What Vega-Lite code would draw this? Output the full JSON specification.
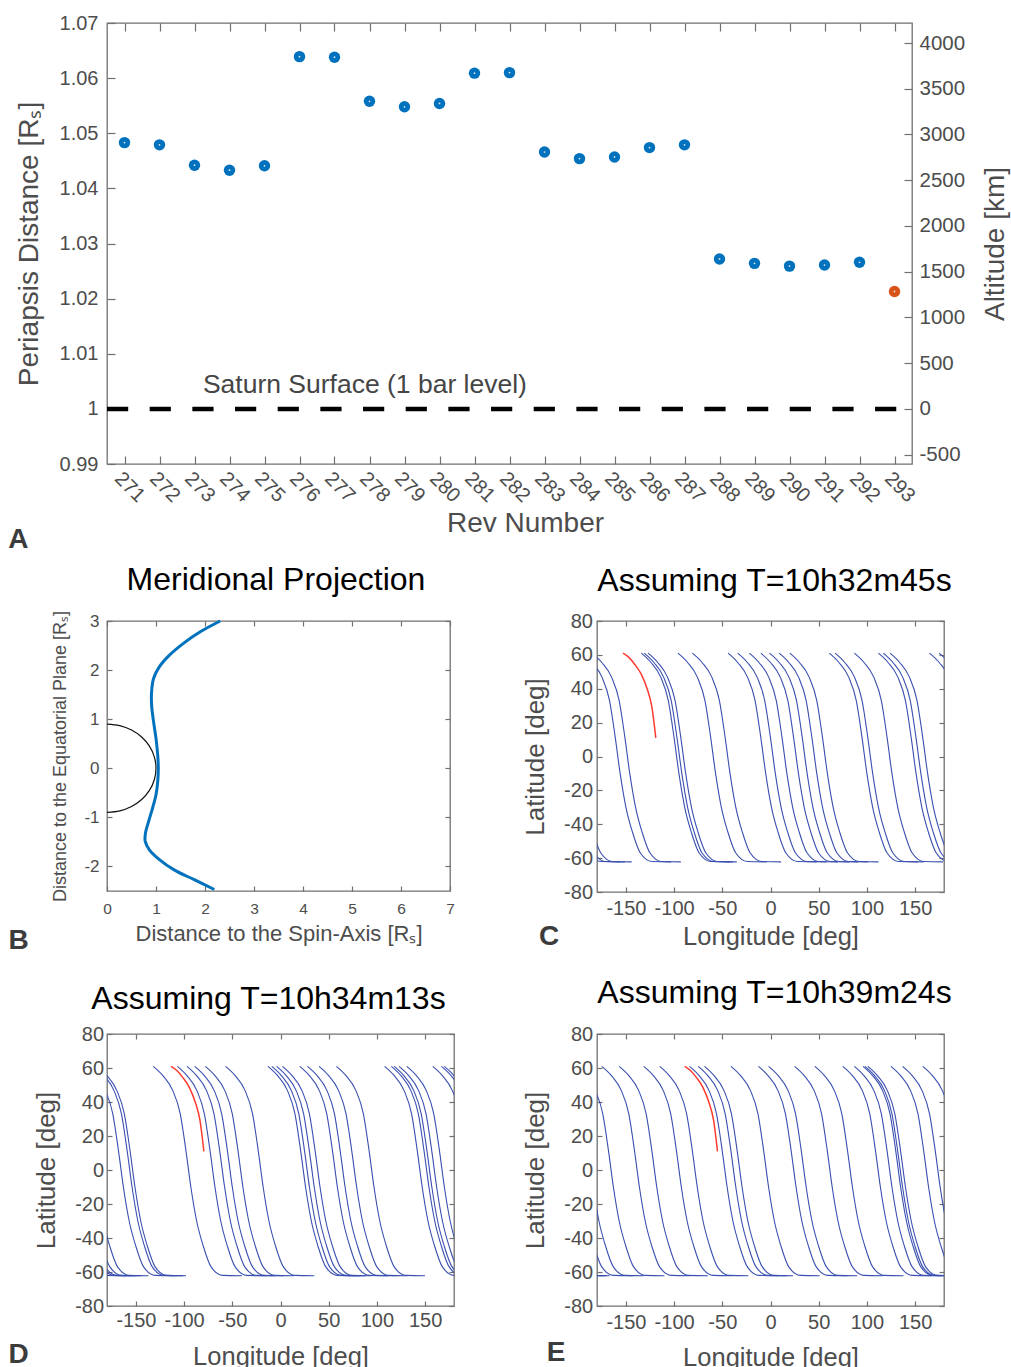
{
"$schema": "https://vega.github.io/schema/vega-lite/v6.json",
"background": "white",
"padding": {"left": 7, "top": 12, "right": 2, "bottom": 0},
"bounds": "flush",
"spacing": 157,
"config": {
 "font": "Liberation Sans",
 "view": {"stroke": "#707070", "strokeWidth": 1.3},
 "axis": {"domain": false, "grid": false, "tickColor": "#707070", "tickWidth": 1.2, "labelColor": "#4d4d4d", "titleColor": "#4d4d4d", "titleFontWeight": "normal", "labelFlush": false, "labelOverlap": false, "labelBound": false, "labelFont": "Liberation Sans", "titleFont": "Liberation Sans"},
 "title": {"fontWeight": "normal", "color": "#000000", "font": "Liberation Sans"}
},
"datasets": {
 "revs": [
  {"rev":271,"r":1.0483,"kind":"earlier"},{"rev":272,"r":1.0479,"kind":"earlier"},{"rev":273,"r":1.0442,"kind":"earlier"},{"rev":274,"r":1.0433,"kind":"earlier"},{"rev":275,"r":1.0441,"kind":"earlier"},{"rev":276,"r":1.0639,"kind":"earlier"},{"rev":277,"r":1.0638,"kind":"earlier"},{"rev":278,"r":1.0558,"kind":"earlier"},{"rev":279,"r":1.0548,"kind":"earlier"},{"rev":280,"r":1.0554,"kind":"earlier"},{"rev":281,"r":1.0609,"kind":"earlier"},{"rev":282,"r":1.0610,"kind":"earlier"},{"rev":283,"r":1.0466,"kind":"earlier"},{"rev":284,"r":1.0454,"kind":"earlier"},{"rev":285,"r":1.0457,"kind":"earlier"},{"rev":286,"r":1.0474,"kind":"earlier"},{"rev":287,"r":1.0479,"kind":"earlier"},{"rev":288,"r":1.0272,"kind":"earlier"},{"rev":289,"r":1.0264,"kind":"earlier"},{"rev":290,"r":1.0259,"kind":"earlier"},{"rev":291,"r":1.0261,"kind":"earlier"},{"rev":292,"r":1.0266,"kind":"earlier"},{"rev":293,"r":1.0213,"kind":"final"}
 ],
 "merid": [
  {"s":"traj","i":0,"x":2.31,"y":3.0},{"s":"traj","i":1,"x":1.92,"y":2.79},{"s":"traj","i":2,"x":1.58,"y":2.56},{"s":"traj","i":3,"x":1.27,"y":2.30},{"s":"traj","i":4,"x":1.07,"y":2.07},{"s":"traj","i":5,"x":0.95,"y":1.83},{"s":"traj","i":6,"x":0.91,"y":1.56},{"s":"traj","i":7,"x":0.91,"y":1.29},{"s":"traj","i":8,"x":0.95,"y":0.95},{"s":"traj","i":9,"x":1.0,"y":0.61},{"s":"traj","i":10,"x":1.035,"y":0.27},{"s":"traj","i":11,"x":1.047,"y":0},{"s":"traj","i":12,"x":1.035,"y":-0.27},{"s":"traj","i":13,"x":1.0,"y":-0.54},{"s":"traj","i":14,"x":0.93,"y":-0.81},{"s":"traj","i":15,"x":0.85,"y":-1.08},{"s":"traj","i":16,"x":0.785,"y":-1.32},{"s":"traj","i":17,"x":0.78,"y":-1.49},{"s":"traj","i":18,"x":0.865,"y":-1.66},{"s":"traj","i":19,"x":1.07,"y":-1.86},{"s":"traj","i":20,"x":1.37,"y":-2.07},{"s":"traj","i":21,"x":1.78,"y":-2.27},{"s":"traj","i":22,"x":2.19,"y":-2.47},
  {"s":"surf","i":0,"x":0,"y":0.9},{"s":"surf","i":1,"x":0.2588,"y":0.8693},{"s":"surf","i":2,"x":0.5,"y":0.7794},{"s":"surf","i":3,"x":0.7071,"y":0.6364},{"s":"surf","i":4,"x":0.866,"y":0.45},{"s":"surf","i":5,"x":0.9659,"y":0.2329},{"s":"surf","i":6,"x":1,"y":0},{"s":"surf","i":7,"x":0.9659,"y":-0.2329},{"s":"surf","i":8,"x":0.866,"y":-0.45},{"s":"surf","i":9,"x":0.7071,"y":-0.6364},{"s":"surf","i":10,"x":0.5,"y":-0.7794},{"s":"surf","i":11,"x":0.2588,"y":-0.8693},{"s":"surf","i":12,"x":0,"y":-0.9}
 ],
 "tracks": [
  {"p":"C","k":"b","id":"C1","lon":[-134,-124,-114,-106,-100,-95,-89,-82,-74,-62,-42],"lat":[61,55.5,47,33,11,-10,-30,-45,-57,-62,-62.2]},
  {"p":"C","k":"b","id":"C2","lon":[-131,-121,-111,-103,-97,-92,-86,-79,-71,-59,-39],"lat":[61,55.5,47,33,11,-10,-30,-45,-57,-62,-62.2]},
  {"p":"C","k":"b","id":"C3","lon":[-127,-117,-107,-99,-93,-88,-82,-75,-67,-55,-35],"lat":[61,55.5,47,33,11,-10,-30,-45,-57,-62,-62.2]},
  {"p":"C","k":"b","id":"C4","lon":[-96,-86,-76,-68,-62,-57,-51,-44,-36,-24,-4],"lat":[61,55.5,47,33,11,-10,-30,-45,-57,-62,-62.2]},
  {"p":"C","k":"b","id":"C5","lon":[-81,-71,-61,-53,-47,-42,-36,-29,-21,-9,11],"lat":[61,55.5,47,33,11,-10,-30,-45,-57,-62,-62.2]},
  {"p":"C","k":"b","id":"C6","lon":[-44,-34,-24,-16,-10,-5,1,8,16,28,48],"lat":[61,55.5,47,33,11,-10,-30,-45,-57,-62,-62.2]},
  {"p":"C","k":"b","id":"C7","lon":[-34,-24,-14,-6,0,5,11,18,26,38,58],"lat":[61,55.5,47,33,11,-10,-30,-45,-57,-62,-62.2]},
  {"p":"C","k":"b","id":"C8","lon":[-22,-12,-2,6,12,17,23,30,38,50,70],"lat":[61,55.5,47,33,11,-10,-30,-45,-57,-62,-62.2]},
  {"p":"C","k":"b","id":"C9","lon":[-10,0,10,18,24,29,35,42,50,62,82],"lat":[61,55.5,47,33,11,-10,-30,-45,-57,-62,-62.2]},
  {"p":"C","k":"b","id":"C10","lon":[-1,9,19,27,33,38,44,51,59,71,91],"lat":[61,55.5,47,33,11,-10,-30,-45,-57,-62,-62.2]},
  {"p":"C","k":"b","id":"C11","lon":[9,19,29,37,43,48,54,61,69,81,101],"lat":[61,55.5,47,33,11,-10,-30,-45,-57,-62,-62.2]},
  {"p":"C","k":"b","id":"C12","lon":[20,30,40,48,54,59,65,72,80,92,112],"lat":[61,55.5,47,33,11,-10,-30,-45,-57,-62,-62.2]},
  {"p":"C","k":"b","id":"C13","lon":[61,71,81,89,95,100,106,113,121,133,153],"lat":[61,55.5,47,33,11,-10,-30,-45,-57,-62,-62.2]},
  {"p":"C","k":"b","id":"C14","lon":[67,77,87,95,101,106,112,119,127,139,159],"lat":[61,55.5,47,33,11,-10,-30,-45,-57,-62,-62.2]},
  {"p":"C","k":"b","id":"C15","lon":[87,97,107,115,121,126,132,139,147,159,179],"lat":[61,55.5,47,33,11,-10,-30,-45,-57,-62,-62.2]},
  {"p":"C","k":"b","id":"C16","lon":[112,122,132,140,146,151,157,164,172,184,204],"lat":[61,55.5,47,33,11,-10,-30,-45,-57,-62,-62.2]},
  {"p":"C","k":"b","id":"C17","lon":[117,127,137,145,151,156,162,169,177,189,209],"lat":[61,55.5,47,33,11,-10,-30,-45,-57,-62,-62.2]},
  {"p":"C","k":"b","id":"C18","lon":[124,134,144,152,158,163,169,176,184,196,216],"lat":[61,55.5,47,33,11,-10,-30,-45,-57,-62,-62.2]},
  {"p":"C","k":"b","id":"C19","lon":[165,175,185,193,199,204,210,217,225,237,257],"lat":[61,55.5,47,33,11,-10,-30,-45,-57,-62,-62.2]},
  {"p":"C","k":"b","id":"C20","lon":[175,185,195,203,209,214,220,227,235,247,267],"lat":[61,55.5,47,33,11,-10,-30,-45,-57,-62,-62.2]},
  {"p":"C","k":"b","id":"C16w","lon":[-248,-238,-228,-220,-214,-209,-203,-196,-188,-176,-156],"lat":[61,55.5,47,33,11,-10,-30,-45,-57,-62,-62.2]},
  {"p":"C","k":"b","id":"C17w","lon":[-243,-233,-223,-215,-209,-204,-198,-191,-183,-171,-151],"lat":[61,55.5,47,33,11,-10,-30,-45,-57,-62,-62.2]},
  {"p":"C","k":"b","id":"C18w","lon":[-236,-226,-216,-208,-202,-197,-191,-184,-176,-164,-144],"lat":[61,55.5,47,33,11,-10,-30,-45,-57,-62,-62.2]},
  {"p":"C","k":"b","id":"C19w","lon":[-195,-185,-175,-167,-161,-156,-150,-143,-135,-123,-103],"lat":[61,55.5,47,33,11,-10,-30,-45,-57,-62,-62.2]},
  {"p":"C","k":"b","id":"C20w","lon":[-185,-175,-165,-157,-151,-146,-140,-133,-125,-113,-93],"lat":[61,55.5,47,33,11,-10,-30,-45,-57,-62,-62.2]},
  {"p":"C","k":"r","id":"Cr","lon":[-153,-147,-141,-134,-128,-123,-119],"lat":[61,58.5,54.5,48.5,40,29,11]},
  {"p":"D","k":"b","id":"D1","lon":[-132,-122,-112,-104,-98,-93,-87,-80,-72,-60,-40],"lat":[61,55.5,47,33,11,-10,-30,-45,-57,-62,-62.2]},
  {"p":"D","k":"b","id":"D2","lon":[-107,-97,-87,-79,-73,-68,-62,-55,-47,-35,-15],"lat":[61,55.5,47,33,11,-10,-30,-45,-57,-62,-62.2]},
  {"p":"D","k":"b","id":"D3","lon":[-97,-87,-77,-69,-63,-58,-52,-45,-37,-25,-5],"lat":[61,55.5,47,33,11,-10,-30,-45,-57,-62,-62.2]},
  {"p":"D","k":"b","id":"D4","lon":[-89,-79,-69,-61,-55,-50,-44,-37,-29,-17,3],"lat":[61,55.5,47,33,11,-10,-30,-45,-57,-62,-62.2]},
  {"p":"D","k":"b","id":"D5","lon":[-78,-68,-58,-50,-44,-39,-33,-26,-18,-6,14],"lat":[61,55.5,47,33,11,-10,-30,-45,-57,-62,-62.2]},
  {"p":"D","k":"b","id":"D6","lon":[-57,-47,-37,-29,-23,-18,-12,-5,3,15,35],"lat":[61,55.5,47,33,11,-10,-30,-45,-57,-62,-62.2]},
  {"p":"D","k":"b","id":"D7","lon":[-13,-3,7,15,21,26,32,39,47,59,79],"lat":[61,55.5,47,33,11,-10,-30,-45,-57,-62,-62.2]},
  {"p":"D","k":"b","id":"D8","lon":[-9,1,11,19,25,30,36,43,51,63,83],"lat":[61,55.5,47,33,11,-10,-30,-45,-57,-62,-62.2]},
  {"p":"D","k":"b","id":"D9","lon":[-4,6,16,24,30,35,41,48,56,68,88],"lat":[61,55.5,47,33,11,-10,-30,-45,-57,-62,-62.2]},
  {"p":"D","k":"b","id":"D10","lon":[2,12,22,30,36,41,47,54,62,74,94],"lat":[61,55.5,47,33,11,-10,-30,-45,-57,-62,-62.2]},
  {"p":"D","k":"b","id":"D11","lon":[20,30,40,48,54,59,65,72,80,92,112],"lat":[61,55.5,47,33,11,-10,-30,-45,-57,-62,-62.2]},
  {"p":"D","k":"b","id":"D12","lon":[28,38,48,56,62,67,73,80,88,100,120],"lat":[61,55.5,47,33,11,-10,-30,-45,-57,-62,-62.2]},
  {"p":"D","k":"b","id":"D13","lon":[40,50,60,68,74,79,85,92,100,112,132],"lat":[61,55.5,47,33,11,-10,-30,-45,-57,-62,-62.2]},
  {"p":"D","k":"b","id":"D14","lon":[58,68,78,86,92,97,103,110,118,130,150],"lat":[61,55.5,47,33,11,-10,-30,-45,-57,-62,-62.2]},
  {"p":"D","k":"b","id":"D15","lon":[108,118,128,136,142,147,153,160,168,180,200],"lat":[61,55.5,47,33,11,-10,-30,-45,-57,-62,-62.2]},
  {"p":"D","k":"b","id":"D16","lon":[115,125,135,143,149,154,160,167,175,187,207],"lat":[61,55.5,47,33,11,-10,-30,-45,-57,-62,-62.2]},
  {"p":"D","k":"b","id":"D17","lon":[118,128,138,146,152,157,163,170,178,190,210],"lat":[61,55.5,47,33,11,-10,-30,-45,-57,-62,-62.2]},
  {"p":"D","k":"b","id":"D18","lon":[123,133,143,151,157,162,168,175,183,195,215],"lat":[61,55.5,47,33,11,-10,-30,-45,-57,-62,-62.2]},
  {"p":"D","k":"b","id":"D19","lon":[131,141,151,159,165,170,176,183,191,203,223],"lat":[61,55.5,47,33,11,-10,-30,-45,-57,-62,-62.2]},
  {"p":"D","k":"b","id":"D20","lon":[158,168,178,186,192,197,203,210,218,230,250],"lat":[61,55.5,47,33,11,-10,-30,-45,-57,-62,-62.2]},
  {"p":"D","k":"b","id":"D21","lon":[167,177,187,195,201,206,212,219,227,239,259],"lat":[61,55.5,47,33,11,-10,-30,-45,-57,-62,-62.2]},
  {"p":"D","k":"b","id":"D22","lon":[170,180,190,198,204,209,215,222,230,242,262],"lat":[61,55.5,47,33,11,-10,-30,-45,-57,-62,-62.2]},
  {"p":"D","k":"b","id":"D15w","lon":[-252,-242,-232,-224,-218,-213,-207,-200,-192,-180,-160],"lat":[61,55.5,47,33,11,-10,-30,-45,-57,-62,-62.2]},
  {"p":"D","k":"b","id":"D16w","lon":[-245,-235,-225,-217,-211,-206,-200,-193,-185,-173,-153],"lat":[61,55.5,47,33,11,-10,-30,-45,-57,-62,-62.2]},
  {"p":"D","k":"b","id":"D17w","lon":[-242,-232,-222,-214,-208,-203,-197,-190,-182,-170,-150],"lat":[61,55.5,47,33,11,-10,-30,-45,-57,-62,-62.2]},
  {"p":"D","k":"b","id":"D18w","lon":[-237,-227,-217,-209,-203,-198,-192,-185,-177,-165,-145],"lat":[61,55.5,47,33,11,-10,-30,-45,-57,-62,-62.2]},
  {"p":"D","k":"b","id":"D19w","lon":[-229,-219,-209,-201,-195,-190,-184,-177,-169,-157,-137],"lat":[61,55.5,47,33,11,-10,-30,-45,-57,-62,-62.2]},
  {"p":"D","k":"b","id":"D20w","lon":[-202,-192,-182,-174,-168,-163,-157,-150,-142,-130,-110],"lat":[61,55.5,47,33,11,-10,-30,-45,-57,-62,-62.2]},
  {"p":"D","k":"b","id":"D21w","lon":[-193,-183,-173,-165,-159,-154,-148,-141,-133,-121,-101],"lat":[61,55.5,47,33,11,-10,-30,-45,-57,-62,-62.2]},
  {"p":"D","k":"b","id":"D22w","lon":[-190,-180,-170,-162,-156,-151,-145,-138,-130,-118,-98],"lat":[61,55.5,47,33,11,-10,-30,-45,-57,-62,-62.2]},
  {"p":"D","k":"r","id":"Dr","lon":[-113.5,-107.5,-101.5,-94.5,-88.5,-83.5,-79.5],"lat":[61,58.5,54.5,48.5,40,29,11]},
  {"p":"E","k":"b","id":"E1","lon":[-175,-165,-155,-147,-141,-136,-130,-123,-115,-103,-83],"lat":[61,55.5,47,33,11,-10,-30,-45,-57,-62,-62.2]},
  {"p":"E","k":"b","id":"E2","lon":[-157,-147,-137,-129,-123,-118,-112,-105,-97,-85,-65],"lat":[61,55.5,47,33,11,-10,-30,-45,-57,-62,-62.2]},
  {"p":"E","k":"b","id":"E3","lon":[-131.5,-121.5,-111.5,-103.5,-97.5,-92.5,-86.5,-79.5,-71.5,-59.5,-39.5],"lat":[61,55.5,47,33,11,-10,-30,-45,-57,-62,-62.2]},
  {"p":"E","k":"b","id":"E4","lon":[-115,-105,-95,-87,-81,-76,-70,-63,-55,-43,-23],"lat":[61,55.5,47,33,11,-10,-30,-45,-57,-62,-62.2]},
  {"p":"E","k":"b","id":"E5","lon":[-84,-74,-64,-56,-50,-45,-39,-32,-24,-12,8],"lat":[61,55.5,47,33,11,-10,-30,-45,-57,-62,-62.2]},
  {"p":"E","k":"b","id":"E6","lon":[-75,-65,-55,-47,-41,-36,-30,-23,-15,-3,17],"lat":[61,55.5,47,33,11,-10,-30,-45,-57,-62,-62.2]},
  {"p":"E","k":"b","id":"E7","lon":[-68.5,-58.5,-48.5,-40.5,-34.5,-29.5,-23.5,-16.5,-8.5,3.5,23.5],"lat":[61,55.5,47,33,11,-10,-30,-45,-57,-62,-62.2]},
  {"p":"E","k":"b","id":"E8","lon":[-41,-31,-21,-13,-7,-2,4,11,19,31,51],"lat":[61,55.5,47,33,11,-10,-30,-45,-57,-62,-62.2]},
  {"p":"E","k":"b","id":"E9","lon":[-12.5,-2.5,7.5,15.5,21.5,26.5,32.5,39.5,47.5,59.5,79.5],"lat":[61,55.5,47,33,11,-10,-30,-45,-57,-62,-62.2]},
  {"p":"E","k":"b","id":"E10","lon":[-2,8,18,26,32,37,43,50,58,70,90],"lat":[61,55.5,47,33,11,-10,-30,-45,-57,-62,-62.2]},
  {"p":"E","k":"b","id":"E11","lon":[25,35,45,53,59,64,70,77,85,97,117],"lat":[61,55.5,47,33,11,-10,-30,-45,-57,-62,-62.2]},
  {"p":"E","k":"b","id":"E12","lon":[46,56,66,74,80,85,91,98,106,118,138],"lat":[61,55.5,47,33,11,-10,-30,-45,-57,-62,-62.2]},
  {"p":"E","k":"b","id":"E13","lon":[75,85,95,103,109,114,120,127,135,147,167],"lat":[61,55.5,47,33,11,-10,-30,-45,-57,-62,-62.2]},
  {"p":"E","k":"b","id":"E14","lon":[87,97,107,115,121,126,132,139,147,159,179],"lat":[61,55.5,47,33,11,-10,-30,-45,-57,-62,-62.2]},
  {"p":"E","k":"b","id":"E15","lon":[96,106,116,124,130,135,141,148,156,168,188],"lat":[61,55.5,47,33,11,-10,-30,-45,-57,-62,-62.2]},
  {"p":"E","k":"b","id":"E16","lon":[98,108,118,126,132,137,143,150,158,170,190],"lat":[61,55.5,47,33,11,-10,-30,-45,-57,-62,-62.2]},
  {"p":"E","k":"b","id":"E17","lon":[101,111,121,129,135,140,146,153,161,173,193],"lat":[61,55.5,47,33,11,-10,-30,-45,-57,-62,-62.2]},
  {"p":"E","k":"b","id":"E18","lon":[125,135,145,153,159,164,170,177,185,197,217],"lat":[61,55.5,47,33,11,-10,-30,-45,-57,-62,-62.2]},
  {"p":"E","k":"b","id":"E19","lon":[137,147,157,165,171,176,182,189,197,209,229],"lat":[61,55.5,47,33,11,-10,-30,-45,-57,-62,-62.2]},
  {"p":"E","k":"b","id":"E20","lon":[158,168,178,186,192,197,203,210,218,230,250],"lat":[61,55.5,47,33,11,-10,-30,-45,-57,-62,-62.2]},
  {"p":"E","k":"b","id":"E15w","lon":[-264,-254,-244,-236,-230,-225,-219,-212,-204,-192,-172],"lat":[61,55.5,47,33,11,-10,-30,-45,-57,-62,-62.2]},
  {"p":"E","k":"b","id":"E16w","lon":[-262,-252,-242,-234,-228,-223,-217,-210,-202,-190,-170],"lat":[61,55.5,47,33,11,-10,-30,-45,-57,-62,-62.2]},
  {"p":"E","k":"b","id":"E17w","lon":[-259,-249,-239,-231,-225,-220,-214,-207,-199,-187,-167],"lat":[61,55.5,47,33,11,-10,-30,-45,-57,-62,-62.2]},
  {"p":"E","k":"b","id":"E18w","lon":[-235,-225,-215,-207,-201,-196,-190,-183,-175,-163,-143],"lat":[61,55.5,47,33,11,-10,-30,-45,-57,-62,-62.2]},
  {"p":"E","k":"b","id":"E19w","lon":[-223,-213,-203,-195,-189,-184,-178,-171,-163,-151,-131],"lat":[61,55.5,47,33,11,-10,-30,-45,-57,-62,-62.2]},
  {"p":"E","k":"b","id":"E20w","lon":[-202,-192,-182,-174,-168,-163,-157,-150,-142,-130,-110],"lat":[61,55.5,47,33,11,-10,-30,-45,-57,-62,-62.2]},
  {"p":"E","k":"r","id":"Er","lon":[-89,-83,-77,-70,-64,-59,-55],"lat":[61,58.5,54.5,48.5,40,29,11]}
 ]
},
"vconcat": [
 {
  "width": 805, "height": 441,
  "layer": [
   {
    "data": {"name": "revs"},
    "mark": {"type": "point", "filled": true, "size": 130, "opacity": 1},
    "encoding": {
     "x": {"field": "rev", "type": "quantitative", "scale": {"domain": [270.5, 293.5], "nice": false, "zero": false},
      "axis": {"orient": "bottom", "values": [271,272,273,274,275,276,277,278,279,280,281,282,283,284,285,286,287,288,289,290,291,292,293], "format": "d", "labelAngle": 45, "labelAlign": "left", "labelBaseline": "top", "labelFontSize": 20, "tickSize": -8, "labelPadding": 12, "title": "Rev Number", "titleFontSize": 28, "titlePadding": 4, "titleX": 418}},
     "y": {"field": "r", "type": "quantitative", "scale": {"domain": [0.99, 1.07], "nice": false, "zero": false},
      "axis": {"orient": "left", "values": [0.99,1,1.01,1.02,1.03,1.04,1.05,1.06,1.07], "labelExpr": "datum.value == 1 ? '1' : format(datum.value, '.2f')", "labelFontSize": 20, "tickSize": -8, "labelPadding": 17, "title": "Periapsis Distance [Rₛ]", "titleFontSize": 28, "titlePadding": 16}},
     "color": {"field": "kind", "type": "nominal", "scale": {"domain": ["earlier", "final"], "range": ["#0072BD", "#D95319"]}, "legend": null}
    }
   },
   {
    "data": {"name": "revs"},
    "mark": {"type": "point", "filled": true, "size": 3, "color": "#dfeaf5", "opacity": 1},
    "encoding": {
     "x": {"field": "rev", "type": "quantitative", "scale": {"domain": [270.5, 293.5], "nice": false, "zero": false},
      "axis": {"orient": "top", "values": [271,272,273,274,275,276,277,278,279,280,281,282,283,284,285,286,287,288,289,290,291,292,293], "labels": false, "title": null, "tickSize": -8}},
     "y": {"field": "r", "type": "quantitative", "scale": {"domain": [0.99, 1.07], "nice": false, "zero": false}, "axis": null}
    }
   },
   {
    "data": {"values": [{}]},
    "mark": {"type": "rule", "strokeDash": [21.2, 21.47], "strokeWidth": 4.5, "color": "#000000"},
    "encoding": {
     "x": {"datum": 270.5, "type": "quantitative", "scale": {"domain": [270.5, 293.5], "nice": false, "zero": false}, "axis": null},
     "x2": {"datum": 293.5},
     "y": {"datum": 0, "type": "quantitative", "scale": {"domain": [-602.68, 4218.76], "nice": false, "zero": false},
      "axis": {"orient": "right", "values": [-500,0,500,1000,1500,2000,2500,3000,3500,4000], "labelExpr": "'' + datum.value", "labelAlign": "left", "labelFontSize": 20.5, "tickSize": -8, "labelPadding": 15, "title": "Altitude [km]", "titleFontSize": 28, "titleAngle": 270, "titleAlign": "center", "titleBaseline": "top", "titlePadding": 17}}
    }
   },
   {
    "data": {"values": [{}]},
    "mark": {"type": "text", "text": "Saturn Surface (1 bar level)", "align": "left", "baseline": "middle", "fontSize": 26.5, "color": "#454545"},
    "encoding": {
     "x": {"datum": 273.24, "type": "quantitative", "scale": {"domain": [270.5, 293.5], "nice": false, "zero": false}, "axis": null},
     "y": {"datum": 1.00442, "type": "quantitative", "scale": {"domain": [0.99, 1.07], "nice": false, "zero": false}, "axis": null}
    }
   },
   {
    "data": {"values": [{}]},
    "mark": {"type": "text", "text": "A", "align": "center", "baseline": "middle", "fontSize": 28, "fontWeight": "bold", "color": "#3c3c3c"},
    "encoding": {
     "x": {"datum": 267.97, "type": "quantitative", "scale": {"domain": [270.5, 293.5], "nice": false, "zero": false}, "axis": null},
     "y": {"datum": 0.9762, "type": "quantitative", "scale": {"domain": [0.99, 1.07], "nice": false, "zero": false}, "axis": null}
    }
   }
  ],
  "resolve": {"scale": {"y": "independent"}, "axis": {"x": "independent", "y": "independent"}}
 },
 {
  "bounds": "flush",
  "spacing": 413,
  "vconcat": [
   {
    "bounds": "flush",
    "spacing": 147,
    "hconcat": [
     {
      "width": 343, "height": 270,
      "title": {"text": "Meridional Projection", "fontSize": 32, "frame": "group", "anchor": "middle", "baseline": "alphabetic", "offset": -11.7, "dx": -2.5},
      "layer": [
       {
        "data": {"name": "merid"},
        "transform": [{"filter": "datum.s == 'surf'"}],
        "mark": {"type": "line", "color": "#111111", "strokeWidth": 1.2, "interpolate": "catmull-rom"},
        "encoding": {
         "x": {"field": "x", "type": "quantitative", "scale": {"domain": [0, 7], "nice": false, "zero": false},
          "axis": {"orient": "bottom", "values": [0,1,2,3,4,5,6,7], "labelExpr": "'' + datum.value", "labelFontSize": 15.5, "tickSize": -5, "labelPadding": 15.6, "title": "Distance to the Spin-Axis [Rₛ]", "titleFontSize": 22, "titlePadding": 6}},
         "y": {"field": "y", "type": "quantitative", "scale": {"domain": [-2.5, 3], "nice": false, "zero": false},
          "axis": {"orient": "left", "values": [-2,-1,0,1,2,3], "labelExpr": "'' + datum.value", "labelFontSize": 17, "tickSize": -5, "labelPadding": 13, "title": "Distance to the Equatorial Plane [Rₛ]", "titleFontSize": 18, "titlePadding": 14}},
         "order": {"field": "i", "type": "quantitative"}
        }
       },
       {
        "data": {"name": "merid"},
        "transform": [{"filter": "datum.s == 'traj'"}],
        "mark": {"type": "line", "color": "#0072BD", "strokeWidth": 3, "interpolate": "catmull-rom"},
        "encoding": {
         "x": {"field": "x", "type": "quantitative", "scale": {"domain": [0, 7], "nice": false, "zero": false},
          "axis": {"orient": "top", "values": [0,1,2,3,4,5,6,7], "labels": false, "title": null, "tickSize": -5}},
         "y": {"field": "y", "type": "quantitative", "scale": {"domain": [-2.5, 3], "nice": false, "zero": false},
          "axis": {"orient": "right", "values": [-2,-1,0,1,2,3], "labels": false, "title": null, "tickSize": -5}},
         "order": {"field": "i", "type": "quantitative"}
        }
       },
       {
        "data": {"values": [{}]},
        "mark": {"type": "text", "text": "B", "align": "center", "baseline": "middle", "fontSize": 28, "fontWeight": "bold", "color": "#3c3c3c"},
        "encoding": {
         "x": {"datum": -1.806, "type": "quantitative", "scale": {"domain": [0, 7], "nice": false, "zero": false}, "axis": null},
         "y": {"datum": -3.519, "type": "quantitative", "scale": {"domain": [-2.5, 3], "nice": false, "zero": false}, "axis": null}
        }
       }
      ],
      "resolve": {"axis": {"x": "independent", "y": "independent"}}
     },
     {
      "width": 347, "height": 271,
      "title": {"text": "Assuming T=10h32m45s", "fontSize": 32, "frame": "group", "anchor": "middle", "baseline": "alphabetic", "offset": -11.7, "dx": 4},
      "layer": [
       {
        "data": {"name": "tracks"},
        "transform": [{"filter": "datum.p == 'C' && datum.k == 'b'"}, {"flatten": ["lon", "lat"]}],
        "mark": {"type": "line", "clip": true, "color": "#3a4fb0", "strokeWidth": 1.1, "interpolate": "monotone"},
        "encoding": {
         "x": {"field": "lon", "type": "quantitative", "scale": {"domain": [-180, 180], "nice": false, "zero": false},
          "axis": {"orient": "bottom", "values": [-150,-100,-50,0,50,100,150], "labelExpr": "'' + datum.value", "labelFontSize": 20, "tickSize": -5, "labelPadding": 11, "title": "Longitude [deg]", "titleFontSize": 25.5, "titlePadding": 6}},
         "y": {"field": "lat", "type": "quantitative", "scale": {"domain": [-80, 80], "nice": false, "zero": false},
          "axis": {"orient": "left", "values": [-80,-60,-40,-20,0,20,40,60,80], "labelExpr": "'' + datum.value", "labelFontSize": 20, "tickSize": -5, "labelPadding": 9.5, "title": "Latitude [deg]", "titleFontSize": 26, "titlePadding": 15}},
         "detail": {"field": "id", "type": "nominal"}
        }
       },
       {
        "data": {"name": "tracks"},
        "transform": [{"filter": "datum.p == 'C' && datum.k == 'r'"}, {"flatten": ["lon", "lat"]}],
        "mark": {"type": "line", "clip": true, "color": "#ff3b2f", "strokeWidth": 1.5, "interpolate": "monotone"},
        "encoding": {
         "x": {"field": "lon", "type": "quantitative", "scale": {"domain": [-180, 180], "nice": false, "zero": false},
          "axis": {"orient": "top", "values": [-150,-100,-50,0,50,100,150], "labels": false, "title": null, "tickSize": -5}},
         "y": {"field": "lat", "type": "quantitative", "scale": {"domain": [-80, 80], "nice": false, "zero": false},
          "axis": {"orient": "right", "values": [-80,-60,-40,-20,0,20,40,60,80], "labels": false, "title": null, "tickSize": -5}},
         "detail": {"field": "id", "type": "nominal"}
        }
       },
       {
        "data": {"values": [{}]},
        "mark": {"type": "text", "text": "C", "align": "center", "baseline": "middle", "fontSize": 28, "fontWeight": "bold", "color": "#3c3c3c"},
        "encoding": {
         "x": {"datum": -229.8, "type": "quantitative", "scale": {"domain": [-180, 180], "nice": false, "zero": false}, "axis": null},
         "y": {"datum": -106.5, "type": "quantitative", "scale": {"domain": [-80, 80], "nice": false, "zero": false}, "axis": null}
        }
       }
      ],
      "resolve": {"axis": {"x": "independent", "y": "independent"}}
     }
    ]
   },
   {
    "bounds": "flush",
    "spacing": 143,
    "hconcat": [
     {
      "width": 347, "height": 272,
      "title": {"text": "Assuming T=10h34m13s", "fontSize": 32, "frame": "group", "anchor": "middle", "baseline": "alphabetic", "offset": -17, "dx": -12},
      "layer": [
       {
        "data": {"name": "tracks"},
        "transform": [{"filter": "datum.p == 'D' && datum.k == 'b'"}, {"flatten": ["lon", "lat"]}],
        "mark": {"type": "line", "clip": true, "color": "#3a4fb0", "strokeWidth": 1.1, "interpolate": "monotone"},
        "encoding": {
         "x": {"field": "lon", "type": "quantitative", "scale": {"domain": [-180, 180], "nice": false, "zero": false},
          "axis": {"orient": "bottom", "values": [-150,-100,-50,0,50,100,150], "labelExpr": "'' + datum.value", "labelFontSize": 20, "tickSize": -5, "labelPadding": 9.3, "title": "Longitude [deg]", "titleFontSize": 25.5, "titlePadding": 14}},
         "y": {"field": "lat", "type": "quantitative", "scale": {"domain": [-80, 80], "nice": false, "zero": false},
          "axis": {"orient": "left", "values": [-80,-60,-40,-20,0,20,40,60,80], "labelExpr": "'' + datum.value", "labelFontSize": 20, "tickSize": -5, "labelPadding": 8.4, "title": "Latitude [deg]", "titleFontSize": 26, "titlePadding": 15}},
         "detail": {"field": "id", "type": "nominal"}
        }
       },
       {
        "data": {"name": "tracks"},
        "transform": [{"filter": "datum.p == 'D' && datum.k == 'r'"}, {"flatten": ["lon", "lat"]}],
        "mark": {"type": "line", "clip": true, "color": "#ff3b2f", "strokeWidth": 1.5, "interpolate": "monotone"},
        "encoding": {
         "x": {"field": "lon", "type": "quantitative", "scale": {"domain": [-180, 180], "nice": false, "zero": false},
          "axis": {"orient": "top", "values": [-150,-100,-50,0,50,100,150], "labels": false, "title": null, "tickSize": -5}},
         "y": {"field": "lat", "type": "quantitative", "scale": {"domain": [-80, 80], "nice": false, "zero": false},
          "axis": {"orient": "right", "values": [-80,-60,-40,-20,0,20,40,60,80], "labels": false, "title": null, "tickSize": -5}},
         "detail": {"field": "id", "type": "nominal"}
        }
       },
       {
        "data": {"values": [{}]},
        "mark": {"type": "text", "text": "D", "align": "center", "baseline": "middle", "fontSize": 28, "fontWeight": "bold", "color": "#3c3c3c"},
        "encoding": {
         "x": {"datum": -271.8, "type": "quantitative", "scale": {"domain": [-180, 180], "nice": false, "zero": false}, "axis": null},
         "y": {"datum": -108.8, "type": "quantitative", "scale": {"domain": [-80, 80], "nice": false, "zero": false}, "axis": null}
        }
       }
      ],
      "resolve": {"axis": {"x": "independent", "y": "independent"}}
     },
     {
      "width": 347, "height": 272,
      "title": {"text": "Assuming T=10h39m24s", "fontSize": 32, "frame": "group", "anchor": "middle", "baseline": "alphabetic", "offset": -11.3, "dx": 4},
      "layer": [
       {
        "data": {"name": "tracks"},
        "transform": [{"filter": "datum.p == 'E' && datum.k == 'b'"}, {"flatten": ["lon", "lat"]}],
        "mark": {"type": "line", "clip": true, "color": "#3a4fb0", "strokeWidth": 1.1, "interpolate": "monotone"},
        "encoding": {
         "x": {"field": "lon", "type": "quantitative", "scale": {"domain": [-180, 180], "nice": false, "zero": false},
          "axis": {"orient": "bottom", "values": [-150,-100,-50,0,50,100,150], "labelExpr": "'' + datum.value", "labelFontSize": 20, "tickSize": -5, "labelPadding": 11.3, "title": "Longitude [deg]", "titleFontSize": 25.5, "titlePadding": 13}},
         "y": {"field": "lat", "type": "quantitative", "scale": {"domain": [-80, 80], "nice": false, "zero": false},
          "axis": {"orient": "left", "values": [-80,-60,-40,-20,0,20,40,60,80], "labelExpr": "'' + datum.value", "labelFontSize": 20, "tickSize": -5, "labelPadding": 9.3, "title": "Latitude [deg]", "titleFontSize": 26, "titlePadding": 15}},
         "detail": {"field": "id", "type": "nominal"}
        }
       },
       {
        "data": {"name": "tracks"},
        "transform": [{"filter": "datum.p == 'E' && datum.k == 'r'"}, {"flatten": ["lon", "lat"]}],
        "mark": {"type": "line", "clip": true, "color": "#ff3b2f", "strokeWidth": 1.5, "interpolate": "monotone"},
        "encoding": {
         "x": {"field": "lon", "type": "quantitative", "scale": {"domain": [-180, 180], "nice": false, "zero": false},
          "axis": {"orient": "top", "values": [-150,-100,-50,0,50,100,150], "labels": false, "title": null, "tickSize": -5}},
         "y": {"field": "lat", "type": "quantitative", "scale": {"domain": [-80, 80], "nice": false, "zero": false},
          "axis": {"orient": "right", "values": [-80,-60,-40,-20,0,20,40,60,80], "labels": false, "title": null, "tickSize": -5}},
         "detail": {"field": "id", "type": "nominal"}
        }
       },
       {
        "data": {"values": [{}]},
        "mark": {"type": "text", "text": "E", "align": "center", "baseline": "middle", "fontSize": 28, "fontWeight": "bold", "color": "#3c3c3c"},
        "encoding": {
         "x": {"datum": -222.5, "type": "quantitative", "scale": {"domain": [-180, 180], "nice": false, "zero": false}, "axis": null},
         "y": {"datum": -107.6, "type": "quantitative", "scale": {"domain": [-80, 80], "nice": false, "zero": false}, "axis": null}
        }
       }
      ],
      "resolve": {"axis": {"x": "independent", "y": "independent"}}
     }
    ]
   }
  ]
 }
]
}
